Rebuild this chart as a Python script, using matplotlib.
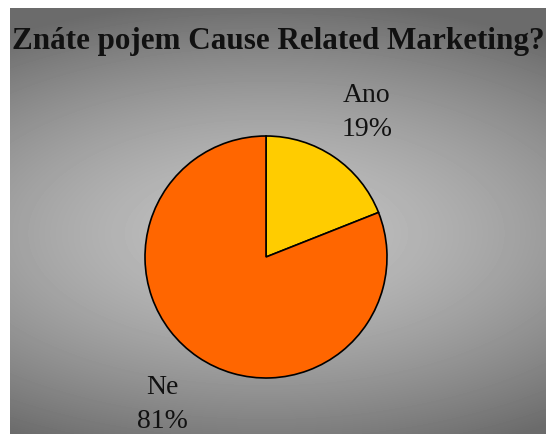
import numpy as np
import matplotlib
matplotlib.use('Agg')
import matplotlib.pyplot as plt

title = 'Znáte pojem Cause Related Marketing?'
labels = ['Ano', 'Ne']
values = [19, 81]
colors = ['#FFCC00', '#FF6600']

W, H = 546, 434
fig = plt.figure(figsize=(W / 100, H / 100), dpi=100)
fig.patch.set_facecolor('white')

# gray gradient background, lighter in the middle
bx0, by0 = 10, 8
bw, bh = W - bx0, H - by0
bg = fig.add_axes([bx0 / W, 0, bw / W, bh / H])
yy, xx = np.mgrid[0:bh, 0:bw]
fx = (xx - 256) / 270.0
fy = (yy - 225) / 215.0
d = np.sqrt((0.6 * fx) ** 2 + fy ** 2)
v = np.clip(0.76 - 0.30 * d ** 1.5, 0.42, 1)
bg.imshow(v, cmap='gray', vmin=0, vmax=1, aspect='auto', interpolation='bilinear')
bg.axis('off')

ax = fig.add_axes([0, 0, 1, 1])
ax.patch.set_alpha(0)
ax.pie(values, colors=colors, startangle=90, counterclock=False,
       center=(266, H - 257), radius=121,
       wedgeprops=dict(edgecolor='black', linewidth=1.2))
ax.set_xlim(0, W)
ax.set_ylim(0, H)
ax.set_aspect('equal')
ax.axis('off')

serif = ['Liberation Serif', 'DejaVu Serif']
ax.text(12, H - 49, title, fontsize=22.4, fontweight='bold', family=serif,
        ha='left', va='baseline', color='#111111')

# label anchors (x centre, baseline of first line)
label_pos = [(367, H - 102), (162, H - 394)]
for lab, val, (x, y) in zip(labels, values, label_pos):
    pct = 100 * val / sum(values)
    ax.text(x, y, lab, fontsize=20, family=serif,
            ha='center', va='baseline', color='#111111')
    ax.text(x, y - 34, f'{pct:.0f}%', fontsize=20, family=serif,
            ha='center', va='baseline', color='#111111')

fig.savefig('out.png', dpi=100)
